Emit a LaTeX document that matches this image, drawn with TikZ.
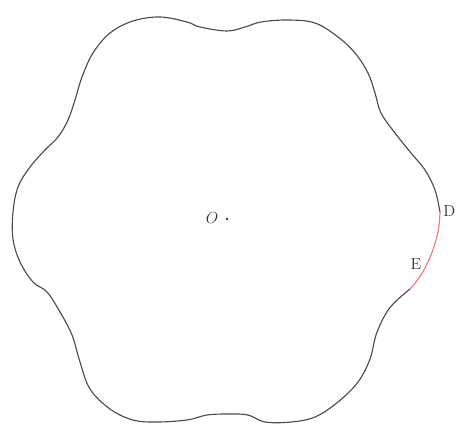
\documentclass[tikz,border=0pt]{standalone}
\begin{document}
\begin{tikzpicture}[x=0.75pt,y=-0.75pt,
  outline/.style={black!70,line width=0.85pt,line join=round,line cap=round},
  arcred/.style={red!55,line width=0.85pt,line cap=round},
  lbl/.style={font=\fontsize{12}{14}\selectfont,inner sep=0pt,text=black!80}]
\useasboundingbox (0,0) rectangle (456,424);
\clip (0,0) rectangle (456,424);
\draw[outline] plot[smooth,tension=0.6] coordinates {
 (410,289)(395,302)(385,315)(376,335)(370,359)(358,382)(338,402)(315,417)(291,422)(265,422)(248,415)(228,414)
 (207,415)(187,420)(157,422)(133,420)(110,409)(90,389)(80,362)(72,335)(60,312)(47,292)(33,282)(20,262)(13,239)(13,212)
 (18,187)(30,167)(45,150)(58,137)(68,120)(75,100)(82,77)(93,53)(110,33)(133,21)(160,17)(187,22)(200,27)(227,31)
 (245,27)(261,22)(288,20)(315,23)(338,37)(355,53)(368,73)(375,93)(381,113)(395,133)(411,153)(425,170)(435,190)(440,212)};
\draw[arcred] plot[smooth,tension=0.6] coordinates {(440,212)(438,232)(431,255)(421,275)(410,289)};
\fill[black!80] (227,219) circle[radius=1.3];
\node[lbl] (O) at (212,218) {$O$};
\node[lbl,anchor=east] (D) at (455.5,211) {D};
\node[lbl] (E) at (416,264) {E};
\end{tikzpicture}
\end{document}
